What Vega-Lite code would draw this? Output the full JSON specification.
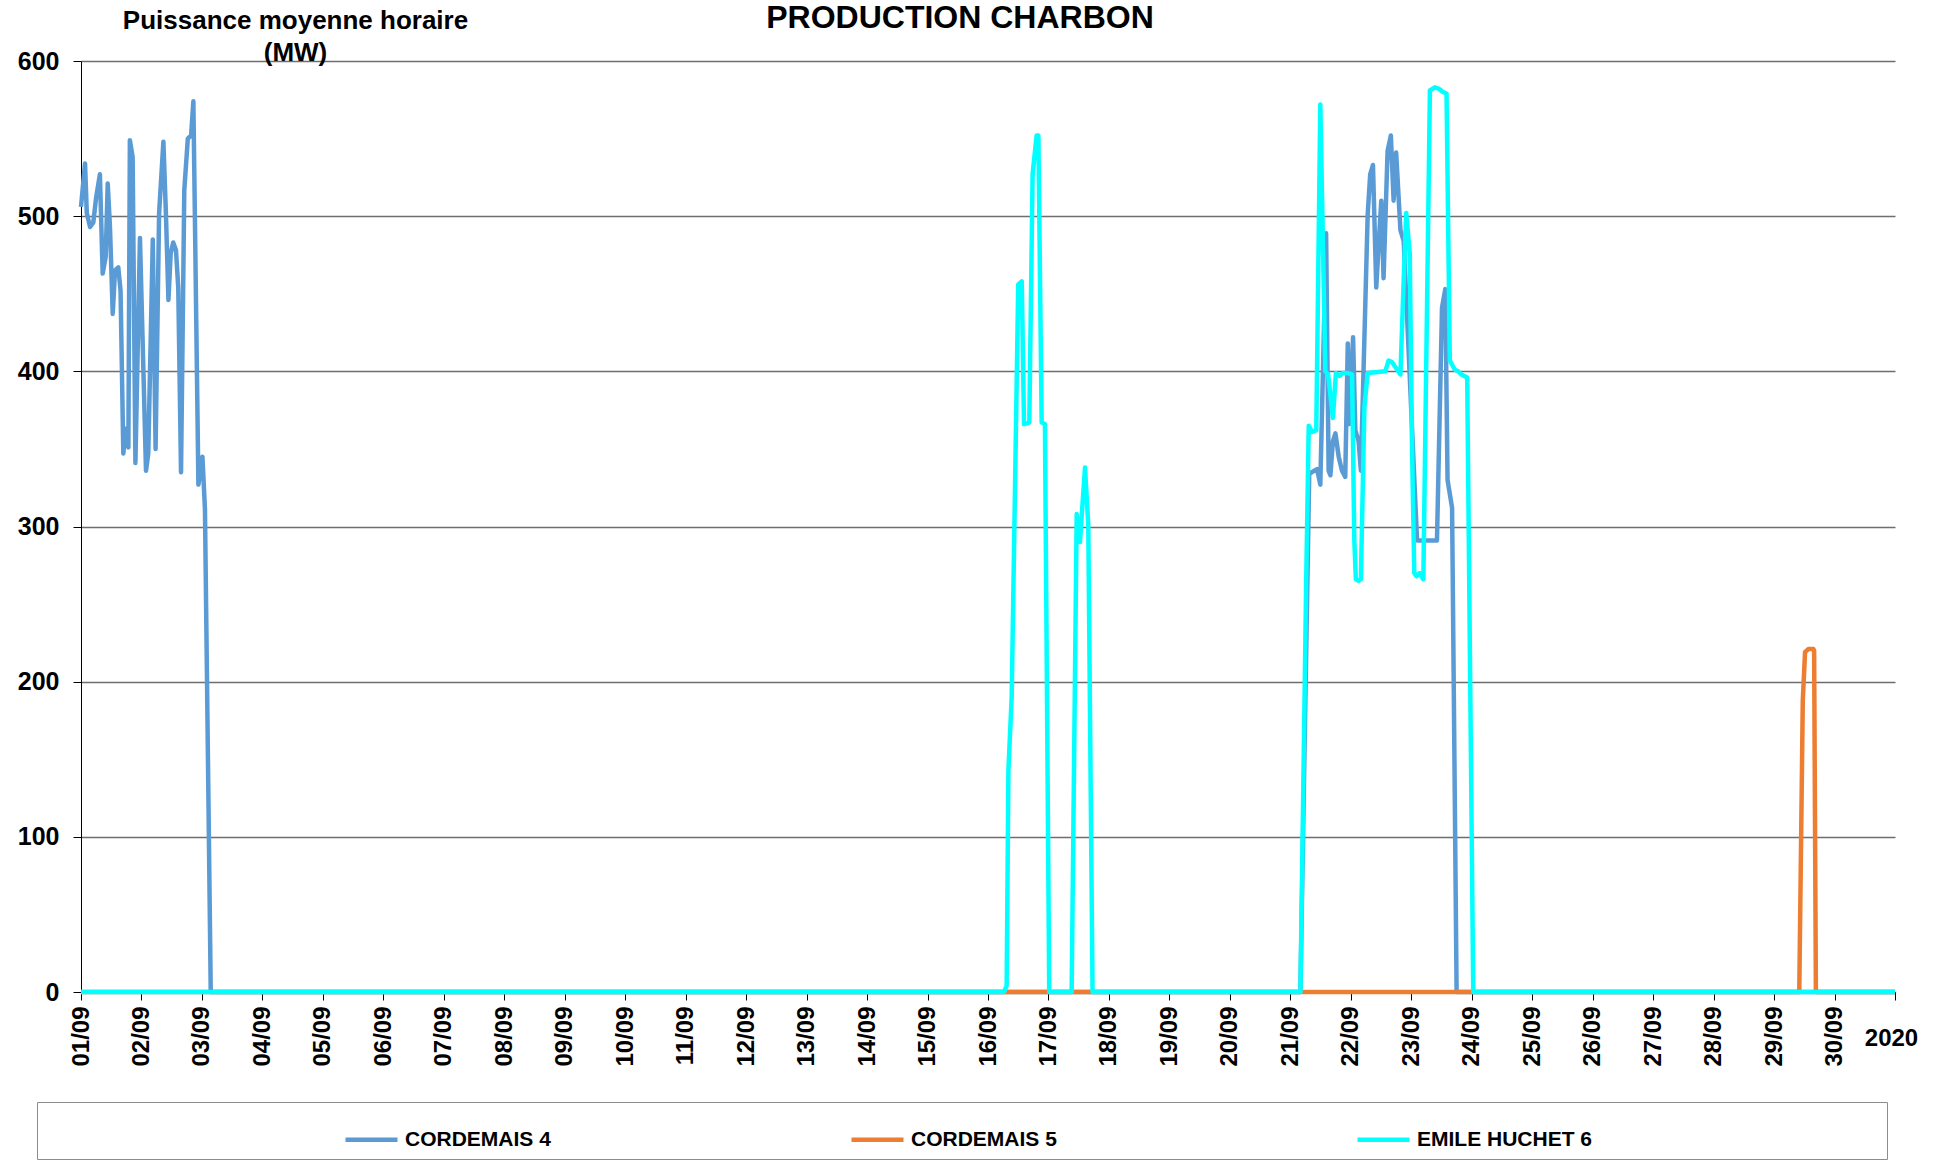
{
  "$schema": "https://vega.github.io/schema/vega-lite/v6.json",
  "width": 1814,
  "height": 931,
  "autosize": {"type": "none"},
  "padding": {"left": 81, "top": 61, "right": 51, "bottom": 179},
  "background": "white",
  "title": {"text": "PRODUCTION CHARBON", "fontSize": 32, "fontWeight": "bold", "color": "black", "anchor": "middle", "offset": 0, "dx": -28, "dy": 28},
  "data": {"values": [
    {"t": "2020-09-01T00:00", "s": "CORDEMAIS 4", "v": 506},
    {"t": "2020-09-01T01:36", "s": "CORDEMAIS 4", "v": 534},
    {"t": "2020-09-01T02:18", "s": "CORDEMAIS 4", "v": 502},
    {"t": "2020-09-01T03:36", "s": "CORDEMAIS 4", "v": 493},
    {"t": "2020-09-01T04:54", "s": "CORDEMAIS 4", "v": 496},
    {"t": "2020-09-01T06:00", "s": "CORDEMAIS 4", "v": 512},
    {"t": "2020-09-01T07:30", "s": "CORDEMAIS 4", "v": 527},
    {"t": "2020-09-01T08:36", "s": "CORDEMAIS 4", "v": 463},
    {"t": "2020-09-01T09:48", "s": "CORDEMAIS 4", "v": 474},
    {"t": "2020-09-01T10:36", "s": "CORDEMAIS 4", "v": 521},
    {"t": "2020-09-01T11:30", "s": "CORDEMAIS 4", "v": 493},
    {"t": "2020-09-01T12:36", "s": "CORDEMAIS 4", "v": 437},
    {"t": "2020-09-01T13:30", "s": "CORDEMAIS 4", "v": 465},
    {"t": "2020-09-01T14:48", "s": "CORDEMAIS 4", "v": 467},
    {"t": "2020-09-01T15:42", "s": "CORDEMAIS 4", "v": 452},
    {"t": "2020-09-01T16:48", "s": "CORDEMAIS 4", "v": 347},
    {"t": "2020-09-01T17:42", "s": "CORDEMAIS 4", "v": 363},
    {"t": "2020-09-01T18:48", "s": "CORDEMAIS 4", "v": 351},
    {"t": "2020-09-01T19:24", "s": "CORDEMAIS 4", "v": 549},
    {"t": "2020-09-01T20:30", "s": "CORDEMAIS 4", "v": 538},
    {"t": "2020-09-01T21:36", "s": "CORDEMAIS 4", "v": 341},
    {"t": "2020-09-01T23:24", "s": "CORDEMAIS 4", "v": 486},
    {"t": "2020-09-02T01:48", "s": "CORDEMAIS 4", "v": 336},
    {"t": "2020-09-02T02:42", "s": "CORDEMAIS 4", "v": 347},
    {"t": "2020-09-02T04:30", "s": "CORDEMAIS 4", "v": 485},
    {"t": "2020-09-02T05:36", "s": "CORDEMAIS 4", "v": 350},
    {"t": "2020-09-02T07:00", "s": "CORDEMAIS 4", "v": 502},
    {"t": "2020-09-02T08:42", "s": "CORDEMAIS 4", "v": 548},
    {"t": "2020-09-02T09:42", "s": "CORDEMAIS 4", "v": 502},
    {"t": "2020-09-02T10:42", "s": "CORDEMAIS 4", "v": 446},
    {"t": "2020-09-02T11:36", "s": "CORDEMAIS 4", "v": 476},
    {"t": "2020-09-02T12:36", "s": "CORDEMAIS 4", "v": 483},
    {"t": "2020-09-02T13:42", "s": "CORDEMAIS 4", "v": 478},
    {"t": "2020-09-02T14:36", "s": "CORDEMAIS 4", "v": 454},
    {"t": "2020-09-02T15:42", "s": "CORDEMAIS 4", "v": 335},
    {"t": "2020-09-02T17:00", "s": "CORDEMAIS 4", "v": 517},
    {"t": "2020-09-02T18:24", "s": "CORDEMAIS 4", "v": 550},
    {"t": "2020-09-02T19:42", "s": "CORDEMAIS 4", "v": 552},
    {"t": "2020-09-02T20:36", "s": "CORDEMAIS 4", "v": 574},
    {"t": "2020-09-02T22:36", "s": "CORDEMAIS 4", "v": 327},
    {"t": "2020-09-03T00:12", "s": "CORDEMAIS 4", "v": 345},
    {"t": "2020-09-03T01:12", "s": "CORDEMAIS 4", "v": 311},
    {"t": "2020-09-03T03:30", "s": "CORDEMAIS 4", "v": 0},
    {"t": "2020-09-21T04:00", "s": "CORDEMAIS 4", "v": 0},
    {"t": "2020-09-21T07:30", "s": "CORDEMAIS 4", "v": 334},
    {"t": "2020-09-21T10:36", "s": "CORDEMAIS 4", "v": 337},
    {"t": "2020-09-21T11:54", "s": "CORDEMAIS 4", "v": 327},
    {"t": "2020-09-21T14:12", "s": "CORDEMAIS 4", "v": 489},
    {"t": "2020-09-21T15:12", "s": "CORDEMAIS 4", "v": 336},
    {"t": "2020-09-21T15:54", "s": "CORDEMAIS 4", "v": 333},
    {"t": "2020-09-21T16:54", "s": "CORDEMAIS 4", "v": 355},
    {"t": "2020-09-21T17:54", "s": "CORDEMAIS 4", "v": 360},
    {"t": "2020-09-21T19:12", "s": "CORDEMAIS 4", "v": 345},
    {"t": "2020-09-21T20:30", "s": "CORDEMAIS 4", "v": 336},
    {"t": "2020-09-21T21:48", "s": "CORDEMAIS 4", "v": 332},
    {"t": "2020-09-21T22:48", "s": "CORDEMAIS 4", "v": 418},
    {"t": "2020-09-21T23:30", "s": "CORDEMAIS 4", "v": 366},
    {"t": "2020-09-22T00:54", "s": "CORDEMAIS 4", "v": 422},
    {"t": "2020-09-22T01:48", "s": "CORDEMAIS 4", "v": 362},
    {"t": "2020-09-22T03:06", "s": "CORDEMAIS 4", "v": 355},
    {"t": "2020-09-22T04:00", "s": "CORDEMAIS 4", "v": 336},
    {"t": "2020-09-22T06:42", "s": "CORDEMAIS 4", "v": 501},
    {"t": "2020-09-22T07:42", "s": "CORDEMAIS 4", "v": 527},
    {"t": "2020-09-22T08:48", "s": "CORDEMAIS 4", "v": 533},
    {"t": "2020-09-22T10:06", "s": "CORDEMAIS 4", "v": 454},
    {"t": "2020-09-22T11:00", "s": "CORDEMAIS 4", "v": 480},
    {"t": "2020-09-22T12:06", "s": "CORDEMAIS 4", "v": 510},
    {"t": "2020-09-22T13:00", "s": "CORDEMAIS 4", "v": 460},
    {"t": "2020-09-22T14:36", "s": "CORDEMAIS 4", "v": 542},
    {"t": "2020-09-22T15:54", "s": "CORDEMAIS 4", "v": 552},
    {"t": "2020-09-22T17:00", "s": "CORDEMAIS 4", "v": 510},
    {"t": "2020-09-22T18:00", "s": "CORDEMAIS 4", "v": 541},
    {"t": "2020-09-22T19:42", "s": "CORDEMAIS 4", "v": 491},
    {"t": "2020-09-22T21:00", "s": "CORDEMAIS 4", "v": 484},
    {"t": "2020-09-23T02:18", "s": "CORDEMAIS 4", "v": 291},
    {"t": "2020-09-23T10:12", "s": "CORDEMAIS 4", "v": 291},
    {"t": "2020-09-23T12:12", "s": "CORDEMAIS 4", "v": 441},
    {"t": "2020-09-23T13:30", "s": "CORDEMAIS 4", "v": 453},
    {"t": "2020-09-23T14:24", "s": "CORDEMAIS 4", "v": 330},
    {"t": "2020-09-23T16:12", "s": "CORDEMAIS 4", "v": 312},
    {"t": "2020-09-23T18:00", "s": "CORDEMAIS 4", "v": 0},
    {"t": "2020-10-01T00:00", "s": "CORDEMAIS 4", "v": 0},
    {"t": "2020-09-01T00:00", "s": "CORDEMAIS 5", "v": 0},
    {"t": "2020-09-29T10:00", "s": "CORDEMAIS 5", "v": 0},
    {"t": "2020-09-29T11:24", "s": "CORDEMAIS 5", "v": 188},
    {"t": "2020-09-29T12:18", "s": "CORDEMAIS 5", "v": 219},
    {"t": "2020-09-29T13:36", "s": "CORDEMAIS 5", "v": 221},
    {"t": "2020-09-29T15:36", "s": "CORDEMAIS 5", "v": 221},
    {"t": "2020-09-29T15:54", "s": "CORDEMAIS 5", "v": 220},
    {"t": "2020-09-29T16:36", "s": "CORDEMAIS 5", "v": 0},
    {"t": "2020-10-01T00:00", "s": "CORDEMAIS 5", "v": 0},
    {"t": "2020-09-01T00:00", "s": "EMILE HUCHET 6", "v": 0},
    {"t": "2020-09-16T06:18", "s": "EMILE HUCHET 6", "v": 0},
    {"t": "2020-09-16T07:24", "s": "EMILE HUCHET 6", "v": 4},
    {"t": "2020-09-16T08:06", "s": "EMILE HUCHET 6", "v": 143},
    {"t": "2020-09-16T09:24", "s": "EMILE HUCHET 6", "v": 190},
    {"t": "2020-09-16T12:00", "s": "EMILE HUCHET 6", "v": 456},
    {"t": "2020-09-16T13:24", "s": "EMILE HUCHET 6", "v": 458},
    {"t": "2020-09-16T14:18", "s": "EMILE HUCHET 6", "v": 366},
    {"t": "2020-09-16T16:24", "s": "EMILE HUCHET 6", "v": 367},
    {"t": "2020-09-16T17:42", "s": "EMILE HUCHET 6", "v": 527},
    {"t": "2020-09-16T19:18", "s": "EMILE HUCHET 6", "v": 552},
    {"t": "2020-09-16T20:00", "s": "EMILE HUCHET 6", "v": 552},
    {"t": "2020-09-16T21:18", "s": "EMILE HUCHET 6", "v": 367},
    {"t": "2020-09-16T22:36", "s": "EMILE HUCHET 6", "v": 366},
    {"t": "2020-09-17T00:18", "s": "EMILE HUCHET 6", "v": 0},
    {"t": "2020-09-17T09:12", "s": "EMILE HUCHET 6", "v": 0},
    {"t": "2020-09-17T11:12", "s": "EMILE HUCHET 6", "v": 308},
    {"t": "2020-09-17T12:30", "s": "EMILE HUCHET 6", "v": 290},
    {"t": "2020-09-17T14:30", "s": "EMILE HUCHET 6", "v": 338},
    {"t": "2020-09-17T15:48", "s": "EMILE HUCHET 6", "v": 301},
    {"t": "2020-09-17T17:30", "s": "EMILE HUCHET 6", "v": 0},
    {"t": "2020-09-21T04:00", "s": "EMILE HUCHET 6", "v": 0},
    {"t": "2020-09-21T06:18", "s": "EMILE HUCHET 6", "v": 265},
    {"t": "2020-09-21T07:18", "s": "EMILE HUCHET 6", "v": 365},
    {"t": "2020-09-21T08:36", "s": "EMILE HUCHET 6", "v": 361},
    {"t": "2020-09-21T10:18", "s": "EMILE HUCHET 6", "v": 362},
    {"t": "2020-09-21T11:54", "s": "EMILE HUCHET 6", "v": 572},
    {"t": "2020-09-21T13:54", "s": "EMILE HUCHET 6", "v": 400},
    {"t": "2020-09-21T15:00", "s": "EMILE HUCHET 6", "v": 398},
    {"t": "2020-09-21T16:54", "s": "EMILE HUCHET 6", "v": 370},
    {"t": "2020-09-21T18:06", "s": "EMILE HUCHET 6", "v": 399},
    {"t": "2020-09-21T19:36", "s": "EMILE HUCHET 6", "v": 397},
    {"t": "2020-09-21T20:54", "s": "EMILE HUCHET 6", "v": 399},
    {"t": "2020-09-21T22:30", "s": "EMILE HUCHET 6", "v": 399},
    {"t": "2020-09-22T00:30", "s": "EMILE HUCHET 6", "v": 398},
    {"t": "2020-09-22T01:24", "s": "EMILE HUCHET 6", "v": 291},
    {"t": "2020-09-22T02:00", "s": "EMILE HUCHET 6", "v": 266},
    {"t": "2020-09-22T03:06", "s": "EMILE HUCHET 6", "v": 265},
    {"t": "2020-09-22T04:00", "s": "EMILE HUCHET 6", "v": 266},
    {"t": "2020-09-22T05:24", "s": "EMILE HUCHET 6", "v": 377},
    {"t": "2020-09-22T06:42", "s": "EMILE HUCHET 6", "v": 399},
    {"t": "2020-09-22T13:42", "s": "EMILE HUCHET 6", "v": 400},
    {"t": "2020-09-22T15:00", "s": "EMILE HUCHET 6", "v": 407},
    {"t": "2020-09-22T16:18", "s": "EMILE HUCHET 6", "v": 406},
    {"t": "2020-09-22T17:36", "s": "EMILE HUCHET 6", "v": 403},
    {"t": "2020-09-22T19:42", "s": "EMILE HUCHET 6", "v": 398},
    {"t": "2020-09-22T21:00", "s": "EMILE HUCHET 6", "v": 459},
    {"t": "2020-09-22T22:00", "s": "EMILE HUCHET 6", "v": 502},
    {"t": "2020-09-22T23:24", "s": "EMILE HUCHET 6", "v": 476},
    {"t": "2020-09-23T00:18", "s": "EMILE HUCHET 6", "v": 351},
    {"t": "2020-09-23T01:12", "s": "EMILE HUCHET 6", "v": 270},
    {"t": "2020-09-23T02:06", "s": "EMILE HUCHET 6", "v": 268},
    {"t": "2020-09-23T03:18", "s": "EMILE HUCHET 6", "v": 270},
    {"t": "2020-09-23T04:48", "s": "EMILE HUCHET 6", "v": 266},
    {"t": "2020-09-23T07:24", "s": "EMILE HUCHET 6", "v": 581},
    {"t": "2020-09-23T09:24", "s": "EMILE HUCHET 6", "v": 583},
    {"t": "2020-09-23T11:06", "s": "EMILE HUCHET 6", "v": 582},
    {"t": "2020-09-23T12:36", "s": "EMILE HUCHET 6", "v": 580},
    {"t": "2020-09-23T14:00", "s": "EMILE HUCHET 6", "v": 579},
    {"t": "2020-09-23T15:18", "s": "EMILE HUCHET 6", "v": 407},
    {"t": "2020-09-23T17:18", "s": "EMILE HUCHET 6", "v": 401},
    {"t": "2020-09-23T18:36", "s": "EMILE HUCHET 6", "v": 400},
    {"t": "2020-09-23T19:54", "s": "EMILE HUCHET 6", "v": 398},
    {"t": "2020-09-23T22:12", "s": "EMILE HUCHET 6", "v": 396},
    {"t": "2020-09-24T00:36", "s": "EMILE HUCHET 6", "v": 0},
    {"t": "2020-10-01T00:00", "s": "EMILE HUCHET 6", "v": 0}
  ]},
  "mark": {"type": "line", "interpolate": "linear", "strokeJoin": "round", "strokeCap": "butt"},
  "encoding": {
    "x": {
      "field": "t", "type": "temporal",
      "scale": {"domain": [{"year": 2020, "month": 9, "date": 1}, {"year": 2020, "month": 10, "date": 1}]},
      "axis": {
        "title": "2020",
        "tickCount": {"interval": "day", "step": 1},
        "labelExpr": "month(datum.value) == 9 ? '' : timeFormat(datum.value, '%d/%m')",
        "labelAngle": -90, "labelAlign": "right", "labelBaseline": "middle",
        "labelFontSize": 24, "labelFontWeight": "bold", "labelColor": "black",
        "labelPadding": 6, "labelOverlap": false, "labelFlush": false,
        "grid": false, "tickSize": 8, "tickColor": "black", "domainColor": "black",
        "titleAngle": 0, "titleX": 1810, "titleY": 46, "titleAlign": "center", "titleBaseline": "middle",
        "titleFontSize": 24, "titleFontWeight": "bold", "titleColor": "black"
      }
    },
    "y": {
      "field": "v", "type": "quantitative",
      "scale": {"domain": [0, 600], "nice": false},
      "axis": {
        "values": [0, 100, 200, 300, 400, 500, 600],
        "title": ["Puissance moyenne horaire", "(MW)"],
        "titleAngle": 0, "titleX": 214, "titleY": -54, "titleAlign": "center", "titleBaseline": "top",
        "titleLineHeight": 32, "titleFontSize": 26, "titleFontWeight": "bold", "titleColor": "black",
        "labelFontSize": 25, "labelFontWeight": "bold", "labelColor": "black", "labelPadding": 14,
        "tickSize": 8, "tickColor": "black", "domainColor": "black",
        "grid": true, "gridColor": "#6e6e6e", "gridWidth": 1.3
      }
    },
    "color": {
      "field": "s", "type": "nominal",
      "scale": {"domain": ["CORDEMAIS 4", "CORDEMAIS 5", "EMILE HUCHET 6"], "range": ["#5B9BD5", "#ED7D31", "#00FFFF"]},
      "legend": {
        "title": " ",
        "labelExpr": "datum.label == 'EMILE HUCHET 6' ? datum.label + '\u00a0\u00a0\u00a0\u00a0\u00a0\u00a0\u00a0\u00a0\u00a0\u00a0\u00a0\u00a0\u00a0\u00a0\u00a0\u00a0\u00a0\u00a0\u00a0\u00a0\u00a0\u00a0\u00a0\u00a0\u00a0\u00a0\u00a0\u00a0\u00a0\u00a0\u00a0\u00a0\u00a0\u00a0\u00a0\u00a0\u00a0\u00a0\u00a0\u00a0\u00a0\u00a0\u00a0\u00a0\u00a0\u00a0\u00a0\u00a0\u00a0\u200b' : datum.label"
      }
    },
    "strokeWidth": {
      "field": "s", "type": "nominal",
      "scale": {"domain": ["CORDEMAIS 4", "CORDEMAIS 5", "EMILE HUCHET 6"], "range": [4.5, 4.5, 7]},
      "legend": {
        "title": " ",
        "labelExpr": "datum.label == 'EMILE HUCHET 6' ? datum.label + '\u00a0\u00a0\u00a0\u00a0\u00a0\u00a0\u00a0\u00a0\u00a0\u00a0\u00a0\u00a0\u00a0\u00a0\u00a0\u00a0\u00a0\u00a0\u00a0\u00a0\u00a0\u00a0\u00a0\u00a0\u00a0\u00a0\u00a0\u00a0\u00a0\u00a0\u00a0\u00a0\u00a0\u00a0\u00a0\u00a0\u00a0\u00a0\u00a0\u00a0\u00a0\u00a0\u00a0\u00a0\u00a0\u00a0\u00a0\u00a0\u00a0\u200b' : datum.label"
      }
    }
  },
  "config": {
    "font": "Liberation Sans",
    "view": {"stroke": null},
    "legend": {
      "orient": "none", "legendX": -44, "legendY": 1041,
      "direction": "horizontal", "columns": 3, "gridAlign": "each", "columnPadding": 291,
      "symbolType": "stroke", "symbolSize": 2704,
      "labelFontSize": 21, "labelFontWeight": "bold", "labelColor": "black", "labelOffset": 5, "labelLimit": 2000,
      "padding": 9, "strokeColor": "#8c8c8c",
      "titleOrient": "left", "titlePadding": 297, "titleOpacity": 0, "titleFontSize": 20
    }
  }
}
